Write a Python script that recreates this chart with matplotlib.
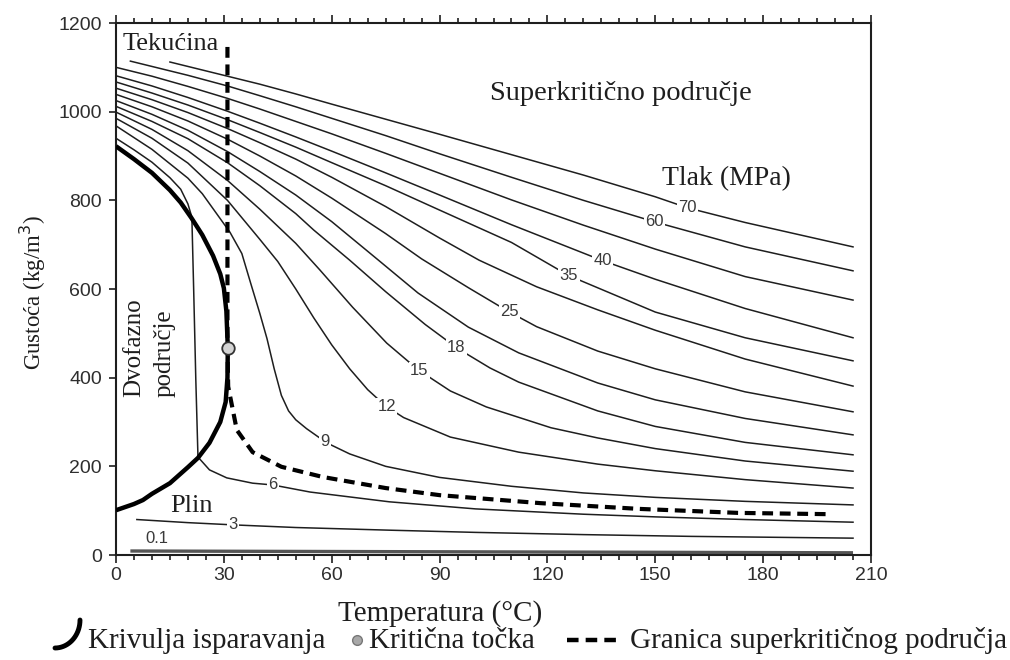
import numpy as np
import matplotlib
matplotlib.use("Agg")
import matplotlib.pyplot as plt
from matplotlib.lines import Line2D
from matplotlib.ticker import MultipleLocator

# ---------------------------------------------------------------------------
# Data: CO2 density isobars
# ---------------------------------------------------------------------------
t_p70 = [15, 20, 31, 40, 50, 60, 75, 90, 110, 130, 150, 159, 175, 205]
rho_p70 = [1112, 1102, 1080, 1062, 1040, 1017, 983, 949, 903, 857, 808, 783, 750, 695]

t_p60 = [4, 10, 20, 31, 40, 50, 60, 75, 90, 110, 130, 150, 175, 205]
rho_p60 = [1114, 1102, 1082, 1058, 1036, 1011, 985, 946, 905, 852, 800, 751, 695, 641]

t_p50 = [0, 10, 20, 31, 40, 50, 60, 75, 90, 110, 130, 150, 175, 205]
rho_p50 = [1100, 1080, 1057, 1030, 1006, 978, 950, 906, 861, 801, 744, 690, 628, 575]

t_p40 = [0, 10, 20, 31, 40, 50, 60, 75, 90, 110, 135, 150, 175, 205]
rho_p40 = [1081, 1058, 1032, 1001, 974, 943, 911, 862, 812, 745, 665, 622, 556, 490]

t_p35 = [0, 10, 20, 31, 40, 50, 60, 75, 90, 110, 126, 150, 175, 205]
rho_p35 = [1067, 1042, 1015, 982, 953, 920, 885, 833, 778, 705, 630, 548, 490, 438]

t_p30 = [0, 10, 20, 31, 40, 50, 60, 75, 90, 101, 117, 134, 150, 175, 205]
rho_p30 = [1053, 1027, 998, 962, 930, 893, 852, 786, 715, 665, 605, 553, 507, 442, 381]

t_p25 = [0, 10, 20, 31, 40, 50, 60, 75, 85, 98, 109, 117, 134, 150, 175, 205]
rho_p25 = [1039, 1011, 979, 938, 900, 855, 805, 725, 668, 603, 550, 515, 460, 420, 368, 323]

t_p20 = [0, 10, 20, 31, 40, 50, 60, 73, 84, 98, 112, 134, 150, 175, 205]
rho_p20 = [1025, 994, 958, 910, 865, 812, 752, 665, 591, 514, 456, 388, 350, 308, 271]

t_p18 = [0, 10, 20, 31, 40, 50, 55, 65, 75, 86, 95, 104, 112, 134, 150, 175, 205]
rho_p18 = [1012, 978, 939, 885, 833, 770, 733, 665, 594, 520, 466, 422, 390, 325, 290, 254, 226]

t_p15 = [0, 10, 20, 31, 40, 50, 56.7, 65.8, 75.3, 84, 93, 103, 121, 134, 150, 175, 205]
rho_p15 = [999, 960, 912, 845, 780, 703, 643, 559, 478, 418, 370, 334, 287, 264, 240, 212, 189]

t_p12 = [0, 10, 20, 31, 40, 45, 50, 55, 60, 65, 70, 75, 80, 93, 112, 134, 150, 175, 205]
rho_p12 = [985, 940, 884, 800, 712, 662, 600, 535, 474, 420, 373, 336, 310, 266, 232, 205, 190, 170, 151]

t_p9 = [0, 10, 20, 24, 31.7, 35, 37.5, 40, 42, 44, 46, 48, 50, 53, 58.6, 65, 75, 90, 110, 130, 150, 175, 205]
rho_p9 = [968, 915, 850, 815, 728, 680, 612, 545, 488, 420, 360, 325, 305, 285, 253, 228, 200, 175, 155, 140, 130, 121, 113]

t_p6 = [0, 5, 10, 15, 18, 20, 21.1, 21.6, 22.2, 22.8, 26, 30.8, 38, 43.6, 54, 76, 100, 130, 150, 175, 205]
rho_p6 = [940, 914, 886, 851, 825, 792, 762, 600, 395, 221, 192, 174, 162, 158, 142, 120, 104, 92, 86, 80, 74]

t_p3 = [5.8, 20, 32.5, 50, 76, 100, 130, 160, 205]
rho_p3 = [80, 73, 68, 62, 56, 51, 46, 42, 38]

t_p01 = [4, 205]
rho_p01 = [9, 5]

pressure_labels = ["70", "60", "50", "40", "35", "30", "25", "20", "18", "15", "12", "9", "6", "3", "0.1"]
isobar_t = [t_p70, t_p60, t_p50, t_p40, t_p35, t_p30, t_p25, t_p20, t_p18, t_p15, t_p12, t_p9, t_p6, t_p3, t_p01]
isobar_rho = [rho_p70, rho_p60, rho_p50, rho_p40, rho_p35, rho_p30, rho_p25, rho_p20, rho_p18,
              rho_p15, rho_p12, rho_p9, rho_p6, rho_p3, rho_p01]

# temperature at which each inline pressure label sits on its isobar
label_t = {"70": 158.9, "60": 149.7, "40": 135.3, "35": 126, "25": 109.4, "18": 94.7,
           "15": 84.4, "12": 75.3, "9": 58.0, "6": 43.6, "3": 32.5}

# saturation (vaporisation) curve: liquid branch then vapour branch
sat_t = [0, 5, 10, 15, 18, 21, 24, 27, 29, 30, 30.7, 31.1,
         31, 30.5, 29, 26, 22.8, 20, 15, 10, 7.5, 5, 0]
sat_rho = [922, 893, 862, 823, 795, 760, 722, 675, 634, 602, 550, 467,
           400, 345, 300, 253, 219, 198, 162, 138, 124, 115, 101]

crit_t, crit_rho = 31.1, 467

# supercritical boundary (dashed)
bound_t = [31, 31, 31.2, 33.6, 38, 46, 57.5, 75, 90, 118, 145.5, 173, 199]
bound_rho = [1146, 470, 380, 282, 232, 199, 176, 151, 135, 117, 104, 95, 92]

SERIF = "Liberation Serif"
SANS = "Liberation Sans"
INK = "#1e1e1e"

fig = plt.figure(figsize=(10.1, 6.6), dpi=100)
ax = fig.add_axes([116 / 1010, 105 / 660, 755 / 1010, 532 / 660])

for p, ts, rs in zip(pressure_labels, isobar_t, isobar_rho):
    if p == "0.1":
        ax.plot(ts, rs, color="#555555", lw=2.4, solid_capstyle="butt", zorder=2)
    else:
        ax.plot(ts, rs, color=INK, lw=1.1, zorder=2)
    if p in label_t:
        tx = label_t[p]
        ry = np.interp(tx, ts, rs)
        ax.text(tx, ry, p, family=[SANS], fontsize=12, color="#3a3a3a",
                ha="center", va="center", zorder=4,
                bbox=dict(boxstyle="square,pad=0.08", fc="white", ec="none"))

ax.text(11.4, 38, "0.1", family=[SANS], fontsize=12, color="#3a3a3a",
        ha="center", va="center", zorder=4)

ax.plot(sat_t, sat_rho, color="black", lw=3.2, solid_capstyle="butt", zorder=3)
ax.plot(bound_t, bound_rho, color="black", lw=3.0, linestyle=(0, (2.6, 1.6)), zorder=3)
ax.plot([crit_t], [crit_rho], marker="o", ms=9, mfc="#d4d4d4", mec="#333333", mew=1.3,
        linestyle="none", zorder=5)

# region annotations
ax.text(1.9, 1139, "Tekućina", family=[SERIF], fontsize=19, color=INK, va="baseline")
ax.text(103.9, 1026, "Superkritično područje", family=[SERIF], fontsize=20.5, color=INK,
        va="baseline")
ax.text(152, 835, "Tlak (MPa)", family=[SERIF], fontsize=20, color=INK, va="baseline")
ax.text(15, 97, "Plin", family=[SERIF], fontsize=19, color=INK, va="baseline")
ax.text(5.0, 356, "Dvofazno", family=[SERIF], fontsize=18, color=INK, rotation=90,
        rotation_mode="anchor", ha="left", va="center")
ax.text(13.6, 356, "područje", family=[SERIF], fontsize=18, color=INK, rotation=90,
        rotation_mode="anchor", ha="left", va="center")

ax.set_xlim(0, 210)
ax.set_ylim(0, 1200)
ax.xaxis.set_major_locator(MultipleLocator(30))
ax.xaxis.set_minor_locator(MultipleLocator(5))
ax.yaxis.set_major_locator(MultipleLocator(200))
ax.tick_params(axis="x", which="both", direction="out", top=True, labeltop=False,
               width=1.2, color=INK)
ax.tick_params(axis="x", which="major", length=6, pad=3)
ax.tick_params(axis="x", which="minor", length=3.5)
ax.tick_params(axis="y", which="major", direction="out", length=5, width=1.2, pad=5, color=INK)
ax.tick_params(axis="y", which="minor", left=False)
for lab in ax.get_xticklabels() + ax.get_yticklabels():
    lab.set_fontfamily(SANS)
    lab.set_fontsize(14)
    lab.set_color("#2e2e2e")
for sp in ax.spines.values():
    sp.set_linewidth(1.5)
    sp.set_color(INK)

ax.set_xlabel("Temperatura (°C)", family=[SERIF], fontsize=21, color=INK)
ax.xaxis.set_label_coords(0.429, -0.085)
ax.set_ylabel("Gustoća (kg/m$^3$)", family=[SERIF], fontsize=16.5, color=INK)
ax.yaxis.set_label_coords(-0.090, 0.494)

# legend drawn along the bottom of the figure
W, H = 1010.0, 660.0
th = np.linspace(0, np.pi / 2, 20)
fig.add_artist(Line2D((55 + 25 * np.sin(th)) / W, (H - (620 + 28 * np.cos(th))) / H,
                      color="black", lw=3.5, solid_capstyle="round"))
fig.text(88 / W, 1 - 648 / H, "Krivulja isparavanja", family=[SERIF], fontsize=21,
         color=INK, va="baseline")
fig.add_artist(Line2D([357 / W], [1 - 640 / H], marker="o", ms=7, mfc="#a8a8a8",
                      mec="#777777", linestyle="none"))
fig.text(369 / W, 1 - 648 / H, "Kritična točka", family=[SERIF], fontsize=21,
         color=INK, va="baseline")
fig.add_artist(Line2D([567 / W, 621 / W], [1 - 640 / H] * 2, color="black", lw=3.2,
                      linestyle=(0, (2.6, 1.6))))
fig.text(630 / W, 1 - 648 / H, "Granica superkritičnog područja", family=[SERIF],
         fontsize=21, color=INK, va="baseline")

fig.savefig("out.png", dpi=100, facecolor="white")
